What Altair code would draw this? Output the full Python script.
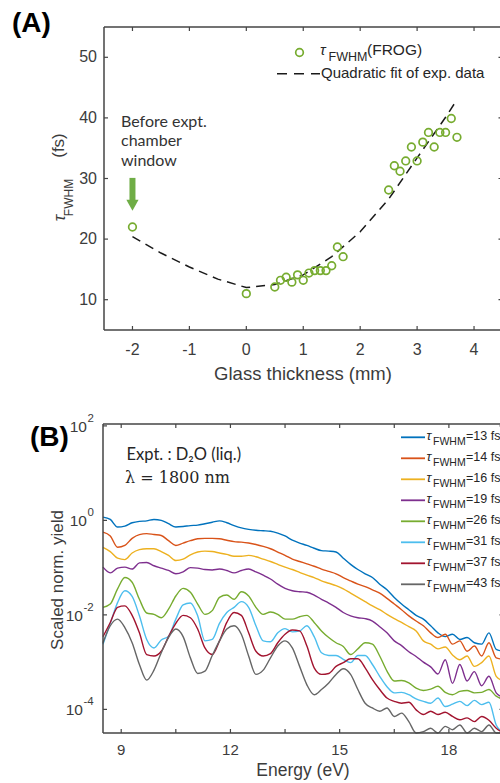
import altair as alt
import pandas as pd

SANS = "Liberation Sans"
INK = "#3c3c3c"
FRAME = "#454545"

# ---------------- Panel (A) data ----------------
glass_mm = [-2.0, 0.0, 0.5, 0.6, 0.7, 0.8, 0.9, 1.0, 1.1, 1.2, 1.3, 1.4, 1.5, 1.6,
            1.7, 2.5, 2.6, 2.7, 2.8, 2.9, 3.0, 3.1, 3.2, 3.3, 3.4, 3.5, 3.6, 3.7]
tau_frog_fs = [22.0, 11.0, 12.1, 13.2, 13.7, 12.9, 14.1, 13.2, 14.4, 14.8, 14.8, 14.8, 15.6, 18.7,
               17.1, 28.1, 32.1, 31.2, 32.9, 35.2, 32.9, 36.0, 37.6, 35.2, 37.6, 37.6, 39.9, 36.8]
fit_mm = [-2.0, -1.5, -1.0, -0.5, 0.0, 0.5, 1.0, 1.5, 2.0, 2.5, 3.0, 3.5, 3.7]
fit_tau_fs = [20.4, 17.7, 15.4, 13.4, 12.0, 12.5, 14.1, 17.1, 21.2, 26.6, 33.4, 40.1, 43.0]
xa_ticks = [-2, -1, 0, 1, 2, 3, 4]
xa_labels = ["-2", "-1", "0", "1", "2", "3", "4"]
ya_ticks = [10, 20, 30, 40, 50]
ya_labels = ["10", "20", "30", "40", "50"]

# ---------------- Panel (B) data ----------------
energy_ev = [8.5, 8.7, 8.9, 9.1, 9.3, 9.5, 9.7, 9.9, 10.1, 10.3,
             10.5, 10.7, 10.9, 11.1, 11.3, 11.5, 11.7, 11.9, 12.1, 12.3,
             12.5, 12.7, 12.9, 13.1, 13.3, 13.5, 13.7, 13.9, 14.1, 14.3,
             14.5, 14.7, 14.9, 15.1, 15.3, 15.5, 15.7, 15.9, 16.1, 16.3,
             16.5, 16.7, 16.9, 17.1, 17.3, 17.5, 17.7, 17.9, 18.1, 18.3,
             18.5, 18.7, 18.9, 19.1, 19.3, 19.5]
# log10 of the scaled normalised yield
log_yield_13fs = [0.07, 0.02, -0.14, -0.12, -0.05, -0.02, -0.01, 0.02, 0.00, -0.07,
                  -0.14, -0.13, -0.11, -0.10, -0.07, -0.04, -0.01, -0.05, -0.11, -0.16,
                  -0.19, -0.21, -0.22, -0.23, -0.27, -0.33, -0.42, -0.48, -0.53, -0.59,
                  -0.64, -0.65, -0.67, -0.80, -0.93, -1.04, -1.13, -1.21, -1.35, -1.47,
                  -1.63, -1.77, -1.89, -2.01, -2.09, -2.23, -2.38, -2.46, -2.41, -2.52,
                  -2.48, -2.59, -2.62, -2.38, -2.73, -2.77]
log_yield_14fs = [-0.25, -0.33, -0.57, -0.53, -0.38, -0.30, -0.28, -0.30, -0.32, -0.43,
                  -0.53, -0.48, -0.43, -0.39, -0.38, -0.38, -0.39, -0.42, -0.45, -0.46,
                  -0.48, -0.51, -0.55, -0.60, -0.67, -0.74, -0.82, -0.87, -0.92, -0.97,
                  -1.03, -1.08, -1.13, -1.21, -1.28, -1.35, -1.40, -1.47, -1.54, -1.65,
                  -1.77, -1.89, -2.02, -2.13, -2.23, -2.38, -2.48, -2.41, -2.62, -2.55,
                  -2.77, -2.66, -2.87, -2.59, -2.91, -2.94]
log_yield_16fs = [-0.57, -0.66, -0.80, -0.83, -0.69, -0.62, -0.60, -0.60, -0.66, -0.74,
                  -0.85, -0.82, -0.73, -0.67, -0.65, -0.66, -0.69, -0.72, -0.76, -0.76,
                  -0.74, -0.77, -0.82, -0.87, -0.93, -0.99, -1.04, -1.10, -1.16, -1.21,
                  -1.28, -1.33, -1.38, -1.45, -1.54, -1.63, -1.72, -1.81, -1.89, -1.99,
                  -2.08, -2.16, -2.25, -2.34, -2.55, -2.62, -2.72, -2.68, -2.85, -2.95,
                  -2.87, -3.09, -3.01, -2.87, -3.30, -3.40]
log_yield_19fs = [-0.99, -1.11, -1.01, -0.99, -1.03, -0.90, -0.89, -0.96, -1.01, -1.06,
                  -1.13, -1.09, -1.00, -1.01, -1.04, -1.05, -1.03, -1.06, -1.11, -1.06,
                  -1.03, -1.09, -1.16, -1.24, -1.35, -1.44, -1.49, -1.51, -1.52, -1.58,
                  -1.67, -1.75, -1.84, -1.95, -2.02, -2.06, -2.08, -2.13, -2.25, -2.38,
                  -2.55, -2.65, -2.78, -2.88, -3.00, -3.10, -3.25, -2.95, -3.45, -3.05,
                  -3.40, -3.20, -3.50, -3.30, -3.65, -3.75]
log_yield_26fs = [-1.84, -1.77, -1.45, -1.21, -1.31, -1.67, -1.96, -1.99, -2.06, -1.88,
                  -1.60, -1.44, -1.52, -1.77, -1.99, -1.91, -1.63, -1.58, -1.67, -1.51,
                  -1.60, -1.84, -1.99, -1.94, -1.99, -2.09, -2.09, -2.04, -2.01, -2.16,
                  -2.34, -2.48, -2.59, -2.67, -2.84, -2.72, -2.59, -2.62, -2.87, -3.19,
                  -3.40, -3.39, -3.44, -3.55, -3.60, -3.57, -3.51, -3.64, -3.69, -3.62,
                  -3.60, -3.65, -3.64, -3.58, -3.72, -3.79]
log_yield_31fs = [-2.62, -2.18, -1.74, -1.49, -1.61, -2.02, -2.52, -2.70, -2.53, -2.45,
                  -2.09, -1.79, -1.75, -2.02, -2.55, -2.52, -2.18, -1.95, -1.84, -1.72,
                  -1.84, -2.23, -2.55, -2.57, -2.38, -2.29, -2.36, -2.34, -2.23, -2.46,
                  -2.80, -2.86, -2.86, -2.94, -3.01, -2.86, -2.86, -3.05, -3.30, -3.52,
                  -3.65, -3.64, -3.69, -3.78, -3.83, -3.87, -3.76, -3.94, -3.89, -3.83,
                  -3.92, -3.81, -3.90, -3.85, -4.33, -4.57]
log_yield_37fs = [-2.46, -2.16, -1.84, -1.81, -2.01, -2.38, -2.84, -2.87, -2.77, -2.46,
                  -2.18, -2.01, -2.06, -2.30, -2.70, -2.84, -2.55, -2.16, -1.95, -2.01,
                  -2.38, -2.77, -2.87, -2.82, -2.59, -2.41, -2.32, -2.34, -2.66, -3.12,
                  -3.26, -3.24, -3.09, -3.01, -2.93, -2.93, -3.12, -3.37, -3.58, -3.76,
                  -3.83, -3.87, -3.85, -4.01, -4.11, -4.04, -4.11, -4.06, -4.15, -4.22,
                  -4.18, -4.26, -4.15, -4.23, -4.40, -4.50]
log_yield_43fs = [-2.59, -2.23, -2.09, -2.27, -2.59, -3.05, -3.38, -3.17, -2.80, -2.48,
                  -2.30, -2.46, -2.91, -3.24, -3.19, -2.86, -2.55, -2.30, -2.23, -2.41,
                  -2.87, -3.26, -3.17, -2.91, -2.66, -2.55, -2.70, -3.09, -3.48, -3.69,
                  -3.58, -3.44, -3.26, -3.14, -3.26, -3.58, -3.87, -3.97, -4.04, -3.97,
                  -4.15, -4.08, -4.26, -4.57, -4.47, -4.40, -4.54, -4.36, -4.43, -4.33,
                  -4.54, -4.40, -4.47, -4.33, -4.57, -4.65]
pulse_fs = ["13", "14", "16", "19", "26", "31", "37", "43"]
series_colors = ["#0072BD", "#D95319", "#EDB120", "#7E2F8E",
                 "#77AC30", "#4DBEEE", "#A2142F", "#666666"]
xb_ticks = [9, 10.5, 12, 13.5, 15, 16.5, 18, 19.5]
xb_label_vals = [9, 12, 15, 18]
xb_labels = ["9", "12", "15", "18"]
yb_ticks = [1e-4, 1e-2, 1.0, 1e2]
yb_exponents = ["-4", "-2", "0", "2"]

# ---------------- scales ----------------
XA_LO, XA_HI, YA_LO, YA_HI = -2.5, 4.5, 5, 55
XB_LO, XB_HI, YB_LO, YB_HI = 8.5, 19.5, 10 ** -4.5, 10 ** 2.04
xA = alt.Scale(domain=[XA_LO, XA_HI], range=[104, 502.5], nice=False, zero=False)
yA = alt.Scale(domain=[YA_LO, YA_HI], range=[330, 27], nice=False, zero=False)
xB = alt.Scale(domain=[XB_LO, XB_HI], range=[103, 503.5], nice=False, zero=False)
yB = alt.Scale(type="log", domain=[YB_LO, YB_HI], range=[733, 424], nice=False, clamp=True)
cB = alt.Scale(domain=pulse_fs, range=series_colors)

GREEN = "#77AC30"
ONE = pd.DataFrame({"a": [0]})


def frame(xs, ys, xlo, xhi, ylo, yhi, xticks, yticks, xf, yf):
    """Box lines (left, bottom, top) and inward ticks on all four sides."""
    lay = []
    lay.append(alt.Chart(ONE).mark_rule(color=FRAME, strokeWidth=1.5).encode(
        x=alt.XDatum(xlo, scale=xs, axis=None), x2=alt.datum(xhi),
        y=alt.YDatum(ylo, scale=ys, axis=None)))
    lay.append(alt.Chart(ONE).mark_rule(color=FRAME, strokeWidth=1.5).encode(
        x=alt.XDatum(xlo, scale=xs, axis=None), x2=alt.datum(xhi),
        y=alt.YDatum(yhi, scale=ys, axis=None)))
    lay.append(alt.Chart(ONE).mark_rule(color=FRAME, strokeWidth=1.5).encode(
        x=alt.XDatum(xlo, scale=xs, axis=None),
        y=alt.YDatum(ylo, scale=ys, axis=None), y2=alt.datum(yhi)))
    dx = pd.DataFrame({xf: xticks})
    dy = pd.DataFrame({yf: yticks})
    for yv, off in [(ylo, -4), (yhi, 4)]:
        lay.append(alt.Chart(dx).mark_rule(color=FRAME, strokeWidth=1.2, y2Offset=off).encode(
            x=alt.X(f"{xf}:Q", scale=xs, axis=None),
            y=alt.YDatum(yv, scale=ys, axis=None), y2=alt.datum(yv)))
    for xv, off in [(xlo, 4), (xhi, -4)]:
        lay.append(alt.Chart(dy).mark_rule(color=FRAME, strokeWidth=1.2, x2Offset=off).encode(
            y=alt.Y(f"{yf}:Q", scale=ys, axis=None),
            x=alt.XDatum(xv, scale=xs, axis=None), x2=alt.datum(xv)))
    return lay


# ---------------- Panel (A) ----------------
dfA = pd.DataFrame({"g": glass_mm, "t": tau_frog_fs})
dfFit = pd.DataFrame({"g": fit_mm, "t": fit_tau_fs})

fitA = alt.Chart(dfFit).mark_line(strokeDash=[9, 6], color="#1a1a1a", strokeWidth=1.5).encode(
    x=alt.X("g:Q", scale=xA, axis=None), y=alt.Y("t:Q", scale=yA, axis=None))
ptsA = alt.Chart(dfA).mark_point(shape="circle", filled=False, size=58, strokeWidth=1.7,
                                 color=GREEN, opacity=1).encode(
    x=alt.X("g:Q", scale=xA, axis=None), y=alt.Y("t:Q", scale=yA, axis=None))

xlabA = alt.Chart(pd.DataFrame({"g": xa_ticks, "lab": xa_labels})).mark_text(
    font=SANS, fontSize=16, color=INK, align="center", baseline="top", dy=12).encode(
    x=alt.X("g:Q", scale=xA, axis=None), y=alt.YDatum(YA_LO, scale=yA, axis=None), text="lab:N")
ylabA = alt.Chart(pd.DataFrame({"t": ya_ticks, "lab": ya_labels})).mark_text(
    font=SANS, fontSize=16, color=INK, align="right", baseline="middle", dx=-7).encode(
    y=alt.Y("t:Q", scale=yA, axis=None), x=alt.XDatum(XA_LO, scale=xA, axis=None), text="lab:N")

ARROW_GREEN = "#6FAD46"
arrow_shaft = alt.Chart(ONE).mark_rule(color=ARROW_GREEN, strokeWidth=6).encode(
    x=alt.XDatum(-2, scale=xA, axis=None),
    y=alt.YDatum(30.1, scale=yA, axis=None), y2=alt.datum(26.3))
arrow_head = alt.Chart(ONE).mark_point(
    shape="M-1,-0.9L1,-0.9L0,0.9Z", filled=True, size=150, color=ARROW_GREEN, opacity=1).encode(
    x=alt.XDatum(-2, scale=xA, axis=None), y=alt.YDatum(25.6, scale=yA, axis=None))

panelA = alt.layer(fitA, ptsA, *frame(xA, yA, XA_LO, XA_HI, YA_LO, YA_HI, xa_ticks, ya_ticks, "g", "t"),
                   xlabA, ylabA, arrow_shaft, arrow_head)

# ---------------- Panel (B) ----------------
all_logs = [log_yield_13fs, log_yield_14fs, log_yield_16fs, log_yield_19fs,
            log_yield_26fs, log_yield_31fs, log_yield_37fs, log_yield_43fs]
rows = []
for lab, logs in zip(pulse_fs, all_logs):
    for e, lv in zip(energy_ev, logs):
        rows.append({"E": e, "Y": 10 ** lv, "series": lab})
dfB = pd.DataFrame(rows)

linesB = alt.Chart(dfB).mark_line(strokeWidth=1.4, interpolate="monotone").encode(
    x=alt.X("E:Q", scale=xB, axis=None),
    y=alt.Y("Y:Q", scale=yB, axis=None),
    color=alt.Color("series:N", scale=cB, legend=None),
)
xlabB = alt.Chart(pd.DataFrame({"E": xb_label_vals, "lab": xb_labels})).mark_text(
    font=SANS, fontSize=15, color=INK, align="center", baseline="top", dy=10).encode(
    x=alt.X("E:Q", scale=xB, axis=None), y=alt.YDatum(YB_LO, scale=yB, axis=None), text="lab:N")

# y labels of the log axis: "10" with a raised exponent
dfYlab = pd.DataFrame({"Y": yb_ticks, "exp": yb_exponents})
ylab_layers = []
for neg, shift in [(True, -20), (False, -16)]:
    sub = dfYlab[dfYlab["exp"].str.startswith("-") == neg]
    ylab_layers.append(alt.Chart(sub).mark_text(
        text="10", font=SANS, fontSize=15.5, color=INK, align="right", baseline="middle",
        dx=shift, dy=1).encode(
        y=alt.Y("Y:Q", scale=yB, axis=None), x=alt.XDatum(XB_LO, scale=xB, axis=None)))
    ylab_layers.append(alt.Chart(sub).mark_text(
        font=SANS, fontSize=11.5, color=INK, align="left", baseline="middle",
        dx=shift + 0.5, dy=-7).encode(
        y=alt.Y("Y:Q", scale=yB, axis=None), x=alt.XDatum(XB_LO, scale=xB, axis=None),
        text="exp:N"))

panelB = alt.layer(linesB, *frame(xB, yB, XB_LO, XB_HI, YB_LO, YB_HI, xb_ticks, yb_ticks, "E", "Y"),
                   xlabB, *ylab_layers)


# ---------------- overlay: titles, legends, annotations ----------------
def txt(s, x, y, size, font=SANS, color=INK, **kw):
    return alt.Chart(ONE).mark_text(
        text=s, font=font, fontSize=size, color=color, align=kw.pop("align", "left"),
        baseline=kw.pop("baseline", "middle"), **kw).encode(x=alt.value(x), y=alt.value(y))


overlay = [
    txt("(A)", 12, 24, 28, color="#000000", fontWeight="bold"),
    txt("(B)", 30, 438, 28, color="#000000", fontWeight="bold"),
    # axis titles
    txt("Glass thickness (mm)", 303, 373.5, 18.5, align="center"),
    txt("Energy (eV)", 303, 771, 17.5, align="center"),
    txt("Scaled norm. yield", 58, 580, 17, angle=270, align="center"),
    txt("τ", 60, 218, 17, fontStyle="italic", angle=270, align="center"),
    txt("FWHM", 68.5, 197.5, 12, angle=270, align="center"),
    txt("(fs)", 58.5, 145.5, 17, angle=270, align="center"),
    # panel A annotation
    txt("Before expt.", 121, 121.5, 16, font="Lato", color="#333333"),
    txt("chamber", 121, 141.2, 16, font="Lato", color="#333333"),
    txt("window", 121, 160.9, 16, font="Lato", color="#333333"),
    # panel A legend
    alt.Chart(ONE).mark_point(
        shape="circle", filled=False, size=58, strokeWidth=1.7, color=GREEN, opacity=1).encode(
        x=alt.value(299.5), y=alt.value(52.5)),
    txt("τ", 320, 50, 15, fontStyle="italic", color="#262626"),
    txt("FWHM", 328.5, 56.5, 12.5, color="#262626"),
    txt("(FROG)", 367, 50, 15.5, color="#262626"),
    alt.Chart(ONE).mark_rule(color="#1a1a1a", strokeWidth=1.5, strokeDash=[10, 7]).encode(
        x=alt.value(277), x2=alt.value(320), y=alt.value(73.7)),
    txt("Quadratic fit of exp. data", 321, 72.5, 15, color="#262626"),
    # panel B annotation
    txt("Expt. : D₂O (liq.)", 126.5, 454.5, 16.5, font="Lato", color="#262626"),
    txt("λ = 1800 nm", 125, 478, 16, font="DejaVu Serif", color="#262626"),
]

legend_df = pd.DataFrame({
    "series": pulse_fs,
    "eq": ["=" + p + " fs" for p in pulse_fs],
})
legend_df["ly"] = [437.3 + 21 * i for i in range(len(pulse_fs))]
leg_base = alt.Chart(legend_df)
leg_lines = leg_base.mark_rule(strokeWidth=1.8).encode(
    x=alt.value(401), x2=alt.value(425),
    y=alt.Y("ly:Q", scale=None, axis=None),
    color=alt.Color("series:N", scale=cB, legend=None))
leg_tau = leg_base.mark_text(text="τ", font=SANS, fontStyle="italic", fontSize=13,
                             color="#262626", align="left", baseline="middle", dy=-1).encode(
    x=alt.value(426.5), y=alt.Y("ly:Q", scale=None, axis=None))
leg_sub = leg_base.mark_text(text="FWHM", font=SANS, fontSize=10.5, color="#262626",
                             align="left", baseline="middle", dy=5).encode(
    x=alt.value(433), y=alt.Y("ly:Q", scale=None, axis=None))
leg_eq = leg_base.mark_text(font=SANS, fontSize=12.5, color="#262626",
                            align="left", baseline="middle", dy=-1.5).encode(
    x=alt.value(466), y=alt.Y("ly:Q", scale=None, axis=None), text="eq:N")

overlay_layer = alt.layer(*overlay, leg_lines, leg_tau, leg_sub, leg_eq)

chart = alt.layer(panelA, panelB, overlay_layer).resolve_scale(
    x="independent", y="independent"
).properties(
    width=500, height=783,
    autosize=alt.AutoSizeParams(type="none"),
    padding=0,
).configure_view(stroke=None)

chart.save("out.html", embed_options={"renderer": "svg", "actions": False})
